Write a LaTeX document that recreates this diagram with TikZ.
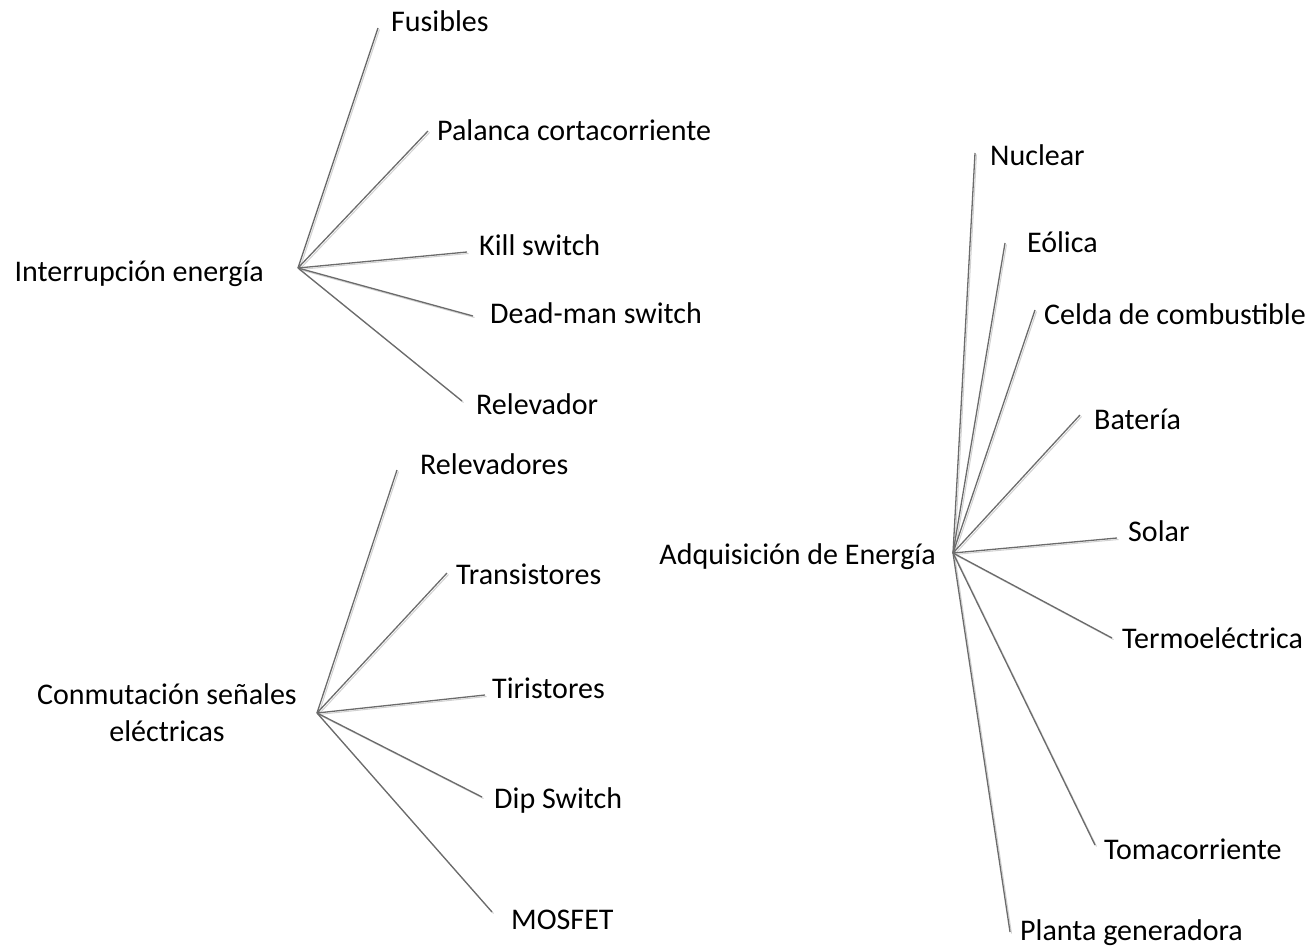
\documentclass[tikz,border=0pt]{standalone}
\usepackage{fontspec}
\setmainfont{Carlito}
\begin{document}
\begin{tikzpicture}[x=1pt,y=-1pt,
  lbl/.style={inner sep=0pt,anchor=west,font=\fontsize{30}{37}\selectfont,text height=20pt,text depth=6pt,yshift=-2pt},
  hubl/.style={inner sep=0pt,font=\fontsize{30}{37}\selectfont,align=center},
  branch/.style={draw=black!58,line width=1.3pt},
  shade/.style={draw=black!18,line width=1pt}]
\useasboundingbox (0,0) rectangle (1316,947);
% hubs
\coordinate (h1) at (298,268);
\coordinate (h2) at (317,713);
\coordinate (h3) at (953,553);
\node[hubl,anchor=east] (t1) at (264,274) {Interrupción energía};
\node[hubl,anchor=center] (t2) at (167,713) {Conmutación señales\\eléctricas};
\node[hubl,anchor=east] (t3) at (936,557) {Adquisición de Energía};
% ends
\coordinate (e1) at (378,28);
\coordinate (e2) at (428,131);
\coordinate (e3) at (467,252);
\coordinate (e4) at (473,316);
\coordinate (e5) at (462,401);
\coordinate (f1) at (397,470);
\coordinate (f2) at (447,573);
\coordinate (f3) at (485,695);
\coordinate (f4) at (482,797);
\coordinate (f5) at (492,912);
\coordinate (g1) at (975,153);
\coordinate (g2) at (1005,243);
\coordinate (g3) at (1035,310);
\coordinate (g4) at (1080,415);
\coordinate (g5) at (1117,538);
\coordinate (g6) at (1112,638);
\coordinate (g7) at (1095,845);
\coordinate (g8) at (1010,932);
% labels
\node[lbl] (l1) at (391,23) {Fusibles};
\node[lbl] (l2) at (437,131) {Palanca cortacorriente};
\node[lbl] (l3) at (479,246) {Kill switch};
\node[lbl] (l4) at (490,314) {Dead-man switch};
\node[lbl] (l5) at (476,405) {Relevador};
\node[lbl] (m1) at (420,465) {Relevadores};
\node[lbl] (m2) at (456,575) {Transistores};
\node[lbl] (m3) at (492,689) {Tiristores};
\node[lbl] (m4) at (494,799) {Dip Switch};
\node[lbl] (m5) at (511,920) {MOSFET};
\node[lbl] (n1) at (990,156) {Nuclear};
\node[lbl] (n2) at (1027,243) {Eólica};
\node[lbl] (n3) at (1044,315) {Celda de combustible};
\node[lbl] (n4) at (1094,420) {Batería};
\node[lbl] (n5) at (1128,532) {Solar};
\node[lbl] (n6) at (1122,639) {Termoeléctrica};
\node[lbl] (n7) at (1104,850) {Tomacorriente};
\node[lbl] (n8) at (1020,931) {Planta generadora};
% shadows
\foreach \h/\e in {h1/e1,h1/e2,h1/e3,h1/e4,h1/e5,h2/f1,h2/f2,h2/f3,h2/f4,h2/f5,h3/g1,h3/g2,h3/g3,h3/g4,h3/g5,h3/g6,h3/g7,h3/g8}
  \draw[shade] ([shift={(1.5,1.5)}]\h) -- ([shift={(1.5,1.5)}]\e);
% branches
\foreach \h/\e in {h1/e1,h1/e2,h1/e3,h1/e4,h1/e5,h2/f1,h2/f2,h2/f3,h2/f4,h2/f5,h3/g1,h3/g2,h3/g3,h3/g4,h3/g5,h3/g6,h3/g7,h3/g8}
  \draw[branch] (\h) -- (\e);
\end{tikzpicture}
\end{document}
